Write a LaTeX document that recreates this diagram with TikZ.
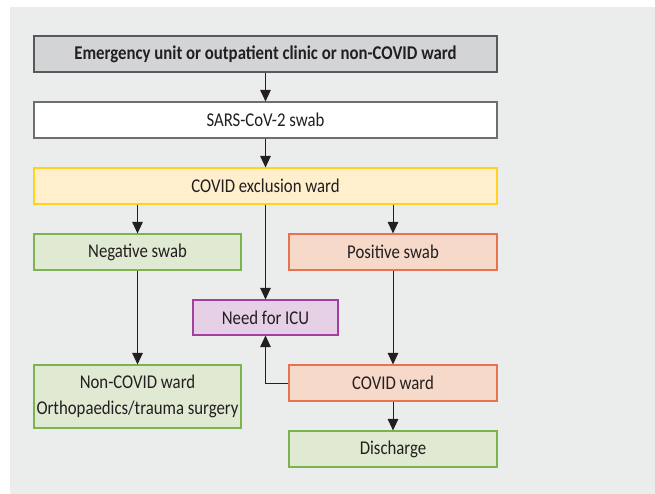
\documentclass[tikz,border=0pt]{standalone}
\usepackage{fontspec}
\setmainfont{Carlito}[FakeStretch=0.86]
\usetikzlibrary{arrows.meta}
\definecolor{bgc}{HTML}{EBECEC}
\definecolor{txt}{HTML}{231F20}
\definecolor{grayfill}{HTML}{D3D4D6}
\definecolor{graydraw}{HTML}{58595B}
\definecolor{whitedraw}{HTML}{6D6E70}
\definecolor{yelfill}{HTML}{FFEFCC}
\definecolor{yeldraw}{HTML}{FFD21F}
\definecolor{grnfill}{HTML}{E0EAD3}
\definecolor{grndraw}{HTML}{7DB34E}
\definecolor{orgfill}{HTML}{F7D9C9}
\definecolor{orgdraw}{HTML}{E8744F}
\definecolor{purfill}{HTML}{E6D0E5}
\definecolor{purdraw}{HTML}{A33FA1}
\begin{document}
\begin{tikzpicture}[x=1pt,y=-1pt,
  box/.style={draw, line width=1.1pt, minimum height=36pt, inner sep=0pt,
    font=\fontsize{19.5}{26}\selectfont, text=txt, align=center},
  arr/.style={-{Triangle[width=10.5pt,length=11.5pt]}, line width=1pt, draw=txt}]
\useasboundingbox (0,0) rectangle (655,494);
\fill[bgc] (10,7) rectangle (655,494);
\node[box, fill=grayfill, draw=graydraw, minimum width=463pt, font=\fontsize{19.5}{26}\selectfont\bfseries] (top) at (265.5,54) {Emergency unit or outpatient clinic or non-COVID ward};
\node[box, fill=white, draw=whitedraw, minimum width=463pt] (sars) at (265.5,120) {SARS-CoV-2 swab};
\node[box, fill=yelfill, draw=yeldraw, minimum width=463pt] (excl) at (265.5,186) {COVID exclusion ward};
\node[box, fill=grnfill, draw=grndraw, minimum width=207pt] (neg) at (137.5,252) {Negative swab};
\node[box, fill=orgfill, draw=orgdraw, minimum width=208pt] (pos) at (393,252) {Positive swab};
\node[box, fill=purfill, draw=purdraw, minimum width=145pt, minimum height=35pt] (icu) at (265.5,317.5) {Need for ICU};
\node[box, fill=grnfill, draw=grndraw, minimum width=207pt, minimum height=63pt] (nonc) at (137.5,396.5) {Non-COVID ward\\Orthopaedics/trauma surgery};
\node[box, fill=orgfill, draw=orgdraw, minimum width=208pt] (cward) at (393,383) {COVID ward};
\node[box, fill=grnfill, draw=grndraw, minimum width=208pt] (dis) at (393,449) {Discharge};
\draw[arr] (top) -- (sars);
\draw[arr] (sars) -- (excl);
\draw[arr] (neg.north |- excl.south) -- (neg.north);
\draw[arr] (pos.north |- excl.south) -- (pos.north);
\draw[arr] (excl.south) -- (icu.north);
\draw[arr] (neg) -- (nonc);
\draw[arr] (pos) -- (cward);
\draw[arr] (cward) -- (dis);
\draw[arr] (cward.west) -| (icu.south);
\end{tikzpicture}
\end{document}
